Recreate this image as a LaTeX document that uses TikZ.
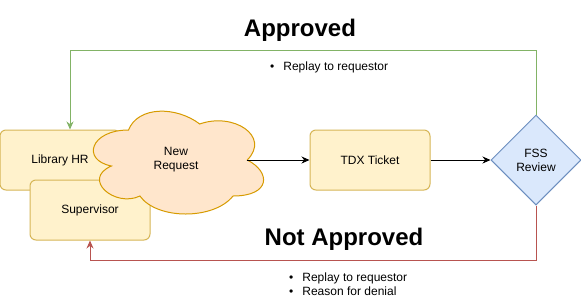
\documentclass[tikz,border=0pt]{standalone}
\usepackage{fontspec}
\setmainfont{Liberation Sans}
\usetikzlibrary{arrows.meta,shapes.geometric,positioning}

\definecolor{boxfill}{HTML}{FFF2CC}
\definecolor{boxline}{HTML}{D6B656}
\definecolor{cloudfill}{HTML}{FFE6CC}
\definecolor{cloudline}{HTML}{D79B00}
\definecolor{diafill}{HTML}{DAE8FC}
\definecolor{dialine}{HTML}{6C8EBF}
\definecolor{okline}{HTML}{82B366}
\definecolor{noline}{HTML}{B85450}

\begin{document}
\begin{tikzpicture}[
    x=1pt,y=-1pt,
    node distance=60pt,
    every node/.style={font=\fontsize{12}{14}\selectfont},
    block/.style={rectangle,draw=boxline,fill=boxfill,line width=1pt,minimum width=120pt,minimum height=60pt,align=center,rounded corners=6pt},
    cloudpath/.style={draw=cloudline,fill=cloudfill,line width=1pt},
    cloudtext/.style={rectangle,minimum width=142pt,minimum height=60pt,inner sep=0pt,align=center},
    decision/.style={diamond,draw=dialine,fill=diafill,line width=1pt,minimum width=90pt,minimum height=90pt,inner sep=0pt,align=center},
    title/.style={font=\bfseries\fontsize{24}{28}\selectfont},
    bullets/.style={anchor=west,align=left,inner sep=0pt},
    arrow/.style={line width=1pt,-{Stealth[length=8pt,width=7pt]}},
    approve/.style={arrow,draw=okline,-{Stealth[length=8pt,width=7pt,fill=okline]}},
    deny/.style={arrow,draw=noline,-{Stealth[length=8pt,width=7pt,fill=noline]}}
]
    \useasboundingbox[fill=white] (0,0) rectangle (581,301);

    \node[block] (libhr) at (60,160) {Library HR};
    \node[block] (supervisor) at (90,210) {Supervisor};

    % cloud outline, unit box 190 x 120
    \begin{scope}[shift={(81,100)},x=190pt,y=-120pt]
        \draw[cloudpath] (0.25,0.25)
            .. controls (0.05,0.25) and (0,0.5) .. (0.16,0.55)
            .. controls (0,0.66) and (0.18,0.9) .. (0.31,0.8)
            .. controls (0.4,1) and (0.7,1) .. (0.8,0.8)
            .. controls (1,0.8) and (1,0.6) .. (0.875,0.5)
            .. controls (1,0.3) and (0.8,0.1) .. (0.625,0.2)
            .. controls (0.5,0.05) and (0.3,0.05) .. (0.25,0.25) -- cycle;
    \end{scope}
    \node[cloudtext] (newreq) at (176,160) {New\\Request};

    \node[block] (ticket) at (370,160) {TDX Ticket};
    \node[decision,right=of ticket] (review) {FSS\\Review};

    \node[title] (approved) at (300,30) {Approved};
    \node[title] (notapproved) at (344,239) {Not Approved};
    \node[bullets] (okreply) at (270,67) {\textbullet\hspace{9pt}Replay to requestor};
    \node[bullets] (noreply) at (289,284) {\textbullet\hspace{9pt}Replay to requestor\\\textbullet\hspace{9pt}Reason for denial};

    \draw[arrow] (newreq) -- (ticket);
    \draw[arrow] (ticket) -- (review);
    \draw[approve] (review.north) |- (70,50) -- ([xshift=10pt]libhr.north);
    \draw[deny] (review.south) |- (90,260) -- (supervisor.south);
\end{tikzpicture}
\end{document}
